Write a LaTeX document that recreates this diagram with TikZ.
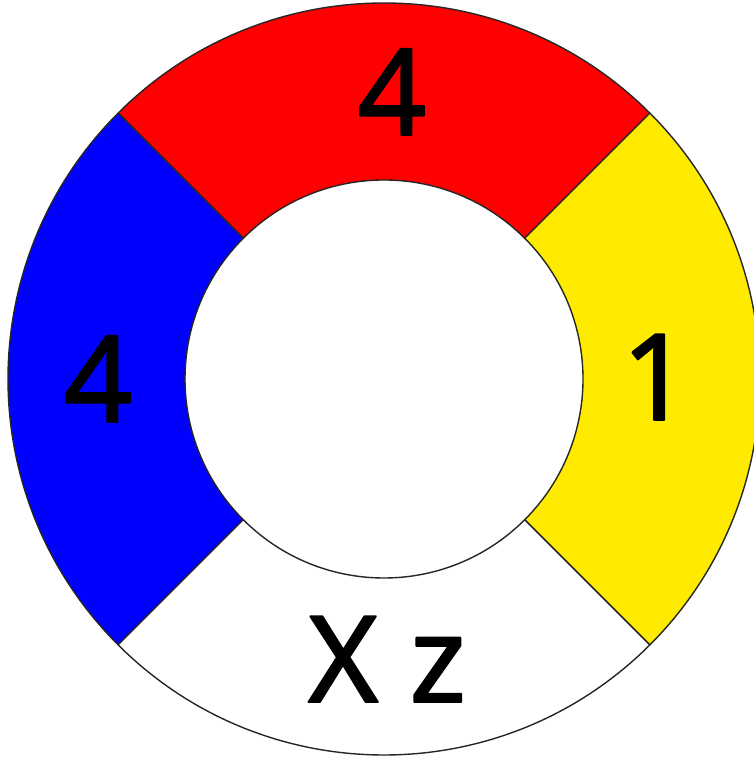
\documentclass[tikz,border=0pt]{standalone}
\usepackage{fontspec}
\setmainfont{Noto Sans}[FakeBold=1.6]
\definecolor{hzyellow}{RGB}{255,235,0}
\tikzset{
  sector/.style={draw=black!85,line width=1.4pt},
  hzlabel/.style={anchor=base,inner sep=0pt,font=\fontsize{120}{120}\selectfont}
}

\begin{document}
\begin{tikzpicture}[x=1pt,y=1pt,line cap=round,line join=round]
  \useasboundingbox (0,0) rectangle (753,760);
  % ring sectors
  \begin{scope}[shift={(384,381)}]
    \def\R{376}
    \def\r{199}
    \draw[sector,fill=red] (45:\R) arc (45:135:\R) -- (135:\r) arc (135:45:\r) -- cycle;
    \draw[sector,fill=blue] (135:\R) arc (135:225:\R) -- (225:\r) arc (225:135:\r) -- cycle;
    \draw[sector,fill=white] (225:\R) arc (225:315:\R) -- (315:\r) arc (315:225:\r) -- cycle;
    \draw[sector,fill=hzyellow] (-45:\R) arc (-45:45:\R) -- (45:\r) arc (45:-45:\r) -- cycle;
  \end{scope}
  % labels
  \node[hzlabel] (health) at (392,625) {4};
  \node[hzlabel] (fire) at (98,338) {4};
  \node[hzlabel] (react) at (656,340) {1};
  \node[hzlabel] (special) at (387,58) {X z};
\end{tikzpicture}
\end{document}
